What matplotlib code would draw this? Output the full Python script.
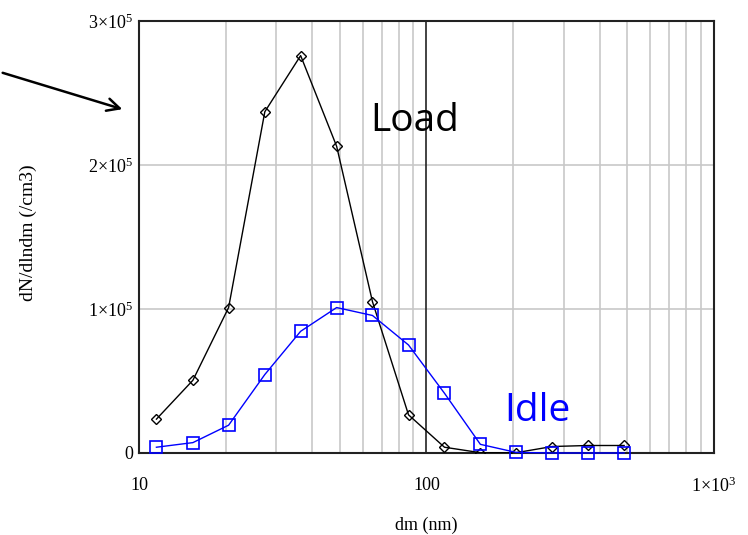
import numpy as np
import matplotlib.pyplot as plt
from matplotlib.ticker import FixedLocator, NullFormatter

plt.rcParams['mathtext.fontset'] = 'custom'
plt.rcParams['mathtext.rm'] = 'Liberation Serif'
plt.rcParams['font.family'] = 'Liberation Serif'

# particle size channels (nm)
dm = [11.5, 15.4, 20.5, 27.4, 36.5, 48.7, 64.9, 86.6, 115.5, 154, 205, 274, 365, 487]
load = [23500, 50500, 101000, 237000, 276000, 213000, 105000, 26500, 4000, 200, 200, 4500, 5200, 5200]
idle = [4000, 7200, 19300, 54500, 84500, 101000, 95500, 75000, 41500, 6000, 400, 0, 0, 0]

yticks = [0, 1e5, 2e5, 3e5]
ylabels = ['0', r'$\mathregular{1×10^5}$', r'$\mathregular{2×10^5}$', r'$\mathregular{3×10^5}$']
xticks = [10, 100, 1000]
xlabels = ['10', '100', r'$\mathregular{1×10^3}$']

fig = plt.figure(figsize=(7.48, 5.35), dpi=100)
ax = fig.add_axes([0.1858, 0.1533, 0.7687, 0.8074])

ax.set_xscale('log')
ax.set_xlim(10, 1000)
ax.set_ylim(0, 3e5)

# grid
minor = [m * d for d in (10, 100) for m in range(2, 10)]
for v in minor:
    ax.axvline(v, color='#c8c8c8', lw=1.2, zorder=0)
for v in (1e5, 2e5):
    ax.axhline(v, color='#c8c8c8', lw=1.2, zorder=0)
ax.axvline(100, color='#222222', lw=1.2, zorder=1)

ax.plot(dm, load, color='black', lw=1, marker='D', markersize=5,
        markerfacecolor='none', markeredgecolor='black', markeredgewidth=1, zorder=3)
ax.plot(dm, idle, color='blue', lw=1, marker='s', markersize=9,
        markerfacecolor='none', markeredgecolor='blue', markeredgewidth=1.2, zorder=3,
        clip_on=False)

ax.xaxis.set_major_locator(FixedLocator(xticks))
ax.xaxis.set_minor_locator(FixedLocator(minor))
ax.xaxis.set_minor_formatter(NullFormatter())
ax.set_xticks(xticks, xlabels)
ax.set_yticks(yticks, ylabels)
ax.tick_params(axis='both', which='both', length=0, labelsize=13)
ax.tick_params(axis='x', pad=17)
ax.tick_params(axis='y', pad=4)

for s in ax.spines.values():
    s.set_linewidth(1.5)
    s.set_color('#222222')

ax.set_xlabel('dm (nm)', fontsize=13, va='center')
ax.xaxis.set_label_coords(0.5, -0.168)
ax.set_ylabel('dN/dlndm (/cm3)', fontsize=14, va='center')
ax.yaxis.set_label_coords(-0.193, 0.51)

ax.text(0.402, 0.745, 'Load', transform=ax.transAxes, fontsize=28,
        family='Open Sans', color='black')
ax.text(0.636, 0.075, 'Idle', transform=ax.transAxes, fontsize=28,
        family='Open Sans', color='blue')

ax.annotate('', xy=(125 / 748, 1 - 110 / 535), xytext=(0, 1 - 72 / 535),
            xycoords='figure fraction', textcoords='figure fraction',
            arrowprops=dict(arrowstyle='->,head_length=0.9,head_width=0.45', lw=1.8, color='black'))

fig.savefig('out.png', dpi=100)
